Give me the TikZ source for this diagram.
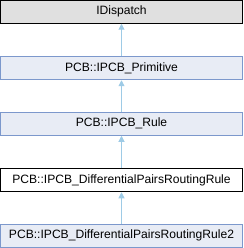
\documentclass[tikz,border=0pt]{standalone}
\usepackage{fontspec}
\setmainfont{Liberation Sans}
\usepackage{xcolor}
\usetikzlibrary{arrows.meta}
\definecolor{basefill}{HTML}{E0E0E0}
\definecolor{clsfill}{HTML}{E8ECF5}
\definecolor{clsdraw}{HTML}{7C98CC}
\definecolor{inhline}{HTML}{9ECBE6}

\tikzset{
  clsbox/.style={draw=clsdraw,fill=clsfill,line width=0.9pt,minimum width=241.5pt,
    minimum height=23pt,inner sep=0pt,font=\fontsize{12.1}{14}\selectfont},
  inharrow/.style={inhline,line width=1pt,-{Triangle[width=6pt,length=6pt,fill=inhline]}}
}

\begin{document}
\begin{tikzpicture}[x=1pt,y=-1pt]
  \useasboundingbox (0,0) rectangle (243,248);
  \node[clsbox,draw=black,fill=basefill] (idisp) at (121.5,11.8) {IDispatch};
  \node[clsbox] (prim) at (121.5,68.3) {PCB::IPCB\_Primitive};
  \node[clsbox] (rule) at (121.5,123.8) {PCB::IPCB\_Rule};
  \node[clsbox,draw=black,fill=white] (dprr) at (121.5,180.3) {PCB::IPCB\_DifferentialPairsRoutingRule};
  \node[clsbox] (dprr2) at (121.5,235.8) {PCB::IPCB\_DifferentialPairsRoutingRule2};

  \draw[inharrow] (prim) -- (idisp);
  \draw[inharrow] (rule) -- (prim);
  \draw[inharrow] (dprr) -- (rule);
  \draw[inharrow] (dprr2) -- (dprr);
\end{tikzpicture}
\end{document}
